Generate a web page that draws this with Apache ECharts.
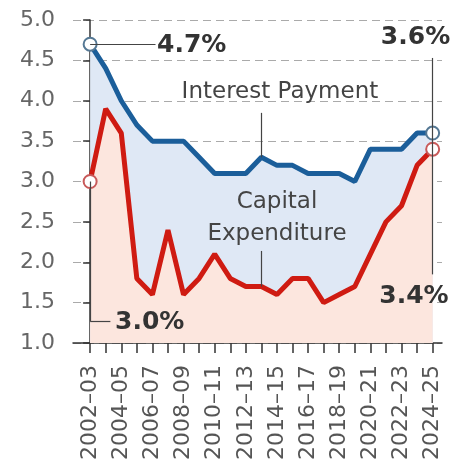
<!DOCTYPE html>
<html>
<head>
<meta charset="utf-8">
<script src="https://cdn.jsdelivr.net/npm/echarts@6/dist/echarts.min.js"></script>
<style>
html,body{margin:0;padding:0;background:#fff;}
#c{width:458px;height:463px;}
</style>
</head>
<body>
<div id="c"></div>
<script>
// ---- data ----
var years = ['2002–03','2003–04','2004–05','2005–06','2006–07','2007–08','2008–09','2009–10','2010–11','2011–12','2012–13','2013–14','2014–15','2015–16','2016–17','2017–18','2018–19','2019–20','2020–21','2021–22','2022–23','2023–24','2024–25'];
var interestPayment = [4.7, 4.4, 4.0, 3.7, 3.5, 3.5, 3.5, 3.3, 3.1, 3.1, 3.1, 3.3, 3.2, 3.2, 3.1, 3.1, 3.1, 3.0, 3.4, 3.4, 3.4, 3.6, 3.6];
var capitalExpenditure = [3.0, 3.9, 3.6, 1.8, 1.6, 2.4, 1.6, 1.8, 2.1, 1.8, 1.7, 1.7, 1.6, 1.8, 1.8, 1.5, 1.6, 1.7, 2.1, 2.5, 2.7, 3.2, 3.4];
var yTicks = [1.0, 1.5, 2.0, 2.5, 3.0, 3.5, 4.0, 4.5, 5.0];

var FONT = 'DejaVu Sans';
var last = years.length - 1;
var idx = years.map(function(_, i){ return i; });
var labelIdx = idx.filter(function(i){ return i % 2 === 0; });

function pairs(arr){ return arr.map(function(v, i){ return [i, v]; }); }
function endSymbol(v, p){ return (p.dataIndex === 0 || p.dataIndex === last) ? 13 : 0; }

var chart = echarts.init(document.getElementById('c'), null, {renderer:'canvas'});

var fmtPct = function(v){ return v.toFixed(1) + '%'; };

chart.setOption({
  animation: false,
  backgroundColor: '#fff',
  grid: {left: 73, right: 16, top: 20, bottom: 119, containLabel: false},
  xAxis: {
    type: 'value', min: -1.1, max: 22.6,
    axisLine: {show: true, onZero: false, lineStyle: {color: '#333', width: 1.5}},
    axisTick: {show: true, length: 10, customValues: idx, lineStyle: {color: '#333', width: 1.5}},
    axisLabel: {
      customValues: labelIdx, rotate: 90, margin: 22,
      fontFamily: FONT, fontSize: 22, color: '#555',
      formatter: function(v){ return years[Math.round(v)] || ''; }
    },
    splitLine: {show: false}
  },
  yAxis: {
    type: 'value', min: yTicks[0], max: yTicks[yTicks.length-1], interval: 0.5,
    axisLine: {show: true, lineStyle: {color: '#333', width: 1.5}},
    axisTick: {show: true, length: 7, lineStyle: {color: '#333', width: 1.5}},
    axisLabel: {fontFamily: FONT, fontSize: 22, color: '#666', margin: 18,
      formatter: function(v){ return v.toFixed(1); }},
    splitLine: {show: true, lineStyle: {color: '#aaa', width: 1, type: [8, 5]}}
  },
  series: [
    {
      name: 'Interest Payment', type: 'line', z: 2,
      data: pairs(interestPayment),
      lineStyle: {color: '#1b5e9a', width: 5},
      itemStyle: {color: '#fff', borderColor: '#557894', borderWidth: 2},
      symbol: 'circle', symbolSize: endSymbol, showSymbol: true,
      areaStyle: {color: '#dfe8f5', opacity: 1, origin: 'start'},
      z: 2
    },
    {
      name: 'Capital Expenditure', type: 'line', z: 3,
      data: pairs(capitalExpenditure),
      lineStyle: {color: '#cf1b12', width: 5},
      itemStyle: {color: '#fff', borderColor: '#c85a5a', borderWidth: 2},
      symbol: 'circle', symbolSize: endSymbol, showSymbol: true,
      areaStyle: {color: '#fce6de', opacity: 1, origin: 'start'}
    },
    {
      name: 'annotations', type: 'line', z: 4, data: [], silent: true,
      markLine: {
        silent: true, symbol: ['none','none'], animation: false,
        lineStyle: {color: '#444', width: 1.2, type: 'solid'},
        label: {show: false},
        data: [
          [{coord: [0, interestPayment[0]]}, {coord: [4.2, interestPayment[0]]}],
          [{coord: [11, interestPayment[11]]}, {coord: [11, 3.85]}],
          [{coord: [11, capitalExpenditure[11]]}, {coord: [11, 2.14]}],
          [{coord: [last, 4.53]}, {coord: [last, 1.85]}],
          [{coord: [0, capitalExpenditure[0]]}, {coord: [0, 1.27]}],
          [{coord: [0, 1.27]}, {coord: [1.3, 1.27]}]
        ]
      },
      markPoint: {
        silent: true, symbol: 'rect', symbolSize: 0, animation: false,
        itemStyle: {color: 'transparent'},
        label: {show: true, position: 'inside', formatter: '{b}', fontFamily: FONT},
        data: [
          {name: fmtPct(interestPayment[0]), coord: [4.3, 4.69], label: {align: 'left', fontSize: 25, fontWeight: 'bold', color: '#333'}},
          {name: fmtPct(interestPayment[last]), coord: [20.9, 4.78], label: {align: 'center', fontSize: 25, fontWeight: 'bold', color: '#333'}},
          {name: fmtPct(capitalExpenditure[last]), coord: [20.8, 1.57], label: {align: 'center', fontSize: 25, fontWeight: 'bold', color: '#333'}},
          {name: fmtPct(capitalExpenditure[0]), coord: [1.6, 1.26], label: {align: 'left', fontSize: 25, fontWeight: 'bold', color: '#333'}},
          {name: 'Interest Payment', coord: [12.19, 4.11], label: {align: 'center', fontSize: 23, color: '#444'}},
          {name: 'Capital', coord: [12.0, 2.74], label: {align: 'center', fontSize: 23, color: '#444'}},
          {name: 'Expenditure', coord: [12.0, 2.35], label: {align: 'center', fontSize: 23, color: '#444'}}
        ]
      }
    }
  ]
});
</script>
</body>
</html>
